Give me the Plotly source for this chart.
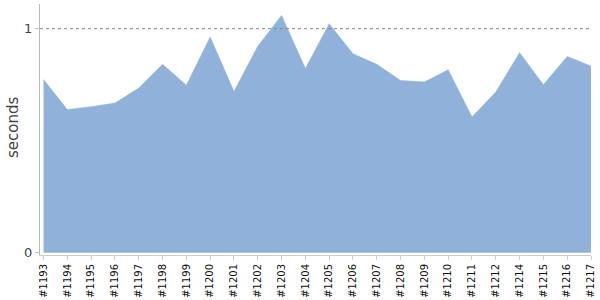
import plotly.graph_objects as go

builds = ["#1193", "#1194", "#1195", "#1196", "#1197", "#1198", "#1199", "#1200",
          "#1201", "#1202", "#1203", "#1204", "#1205", "#1206", "#1207", "#1208",
          "#1209", "#1210", "#1211", "#1212", "#1214", "#1215", "#1216", "#1217"]
seconds = [0.773, 0.639, 0.652, 0.668, 0.735, 0.841, 0.748, 0.963,
           0.720, 0.922, 1.059, 0.822, 1.022, 0.888, 0.841, 0.769,
           0.762, 0.817, 0.606, 0.717, 0.893, 0.750, 0.876, 0.833]
ytick_vals = [0, 1]
ytick_text = ["0", "1"]
reference_line = 1
y_title = "seconds"

W, H = 600, 300
ML, MR, MT, MB = 40, 9, 4, 45

fig = go.Figure()
fig.add_trace(go.Scatter(
    x=builds, y=seconds, mode="lines", fill="tozeroy",
    fillcolor="#8FB1DA", line=dict(color="#8FB1DA", width=0.5),
    hoverinfo="x+y", showlegend=False,
))
fig.add_shape(type="line", xref="paper", x0=0, x1=1, yref="y",
              y0=reference_line, y1=reference_line,
              line=dict(color="#888888", width=1, dash="dot"))
fig.add_annotation(
    text=y_title, textangle=-90, showarrow=False,
    xref="paper", yref="paper",
    x=(13 - ML) / (W - ML - MR), y=(H - MB - 128) / (H - MT - MB),
    xanchor="center", yanchor="middle",
    font=dict(size=15, color="#444444", family="DejaVu Sans"),
)

fig.update_layout(
    width=W, height=H,
    margin=dict(l=ML, r=MR, t=MT, b=MB),
    paper_bgcolor="white", plot_bgcolor="white",
    font=dict(family="DejaVu Sans", color="#444444"),
    xaxis=dict(
        type="category", range=[-0.15, len(builds) - 1],
        showline=True, linecolor="#cccccc", linewidth=1,
        ticks="outside", ticklen=4, tickcolor="#cccccc",
        tickangle=-90, tickfont=dict(size=10, color="#111111"),
        showgrid=False, zeroline=False, automargin=False,
    ),
    yaxis=dict(
        range=[-0.01, 1.11],
        tickvals=ytick_vals, ticktext=ytick_text,
        showline=True, linecolor="#bbbbbb", linewidth=1,
        ticks="outside", ticklen=4, tickcolor="#bbbbbb",
        tickfont=dict(size=13, color="#444444"),
        showgrid=False, zeroline=False, automargin=False,
    ),
)
fig.write_html("out.html")
